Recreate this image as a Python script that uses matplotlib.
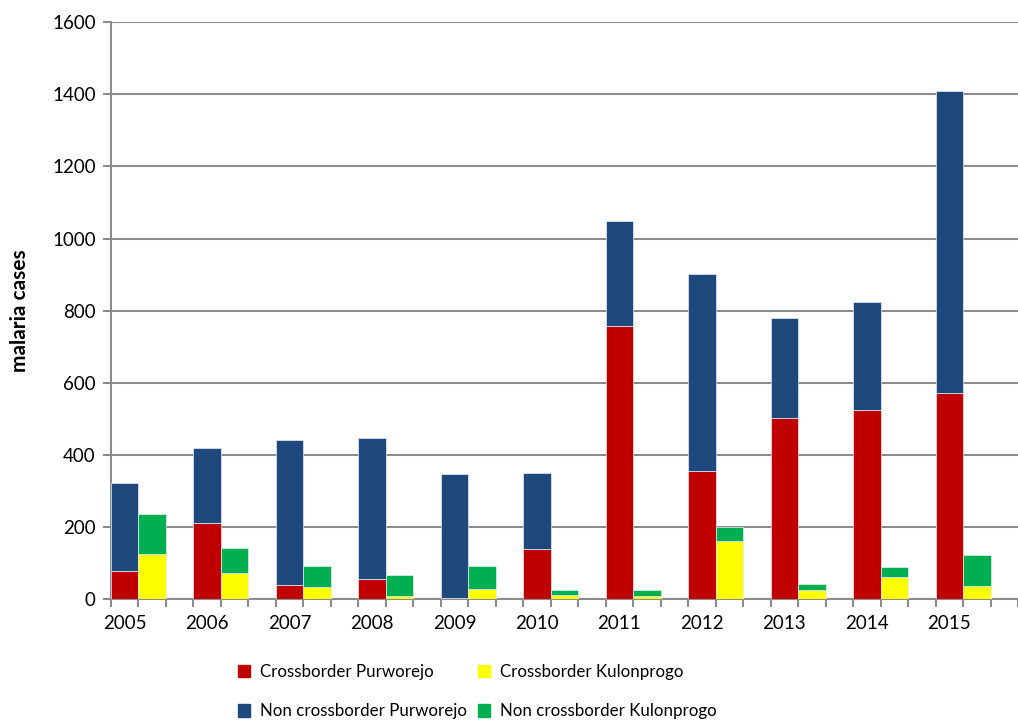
import numpy as np
import matplotlib
matplotlib.use("Agg")
import matplotlib.pyplot as plt
from matplotlib.patches import Patch

plt.rcParams['font.family'] = ['Lato', 'DejaVu Sans']

years = ['2005', '2006', '2007', '2008', '2009', '2010', '2011', '2012', '2013', '2014', '2015']
cross_pur = [78, 211, 40, 57, 5, 141, 757, 355, 503, 525, 572]
noncross_pur = [245, 210, 402, 391, 344, 209, 293, 546, 276, 298, 838]
cross_kul = [126, 72, 35, 11, 29, 13, 9, 161, 27, 62, 36]
noncross_kul = [111, 72, 59, 58, 63, 12, 18, 40, 17, 27, 86]

c_red = '#C00000'
c_yel = '#FFFF00'
c_blue = '#1F497D'
c_green = '#00B050'

fig = plt.figure(figsize=(10.18, 7.2), dpi=100)
ax = fig.add_axes([0.109, 0.1674, 0.891, 0.802])

x = np.arange(len(years)) * 3
kw = dict(width=1.0, align='center', zorder=3, edgecolor='#e8ecf4', linewidth=0.5)
ax.bar(x, cross_pur, color=c_red, **kw)
ax.bar(x, noncross_pur, bottom=cross_pur, color=c_blue, **kw)
ax.bar(x + 1, cross_kul, color=c_yel, **kw)
ax.bar(x + 1, noncross_kul, bottom=cross_kul, color=c_green, **kw)

ax.set_ylim(0, 1600)
ax.set_xlim(-0.5, 32.18)
ax.set_yticks(np.arange(0, 1601, 200))
ax.yaxis.grid(True, color='#8c8c8c', linewidth=1.5, zorder=0)
ax.set_axisbelow(True)

ax.set_xticks(x)
ax.set_xticklabels(years)
ax.set_xticks(np.arange(-0.5, 33, 1), minor=True)
ax.tick_params(axis='x', which='major', length=0, pad=11, labelsize=13.5)
ax.tick_params(axis='x', which='minor', length=6, width=1.5, color='#8c8c8c')
ax.tick_params(axis='y', length=6, width=1.5, color='#8c8c8c', labelsize=13.5, pad=5)

for s in ['top', 'right']:
    ax.spines[s].set_visible(False)
for s in ['left', 'bottom']:
    ax.spines[s].set_color('#8c8c8c')
    ax.spines[s].set_linewidth(1.5)

ax.set_ylabel('malaria cases', fontsize=15, fontweight='bold', labelpad=16)

handles = [Patch(color=c_red), Patch(color=c_blue), Patch(color=c_yel), Patch(color=c_green)]
labels = ['Crossborder Purworejo', 'Non crossborder Purworejo',
          'Crossborder Kulonprogo', 'Non crossborder Kulonprogo']
fig.legend(handles, labels, ncol=2, frameon=False, loc='upper left',
           bbox_to_anchor=(0.225, 0.09), borderpad=0, fontsize=12.2,
           handlelength=0.75, handleheight=0.75, handletextpad=0.6,
           columnspacing=0.6, labelspacing=1.4)

fig.savefig('out.png', dpi=100)
